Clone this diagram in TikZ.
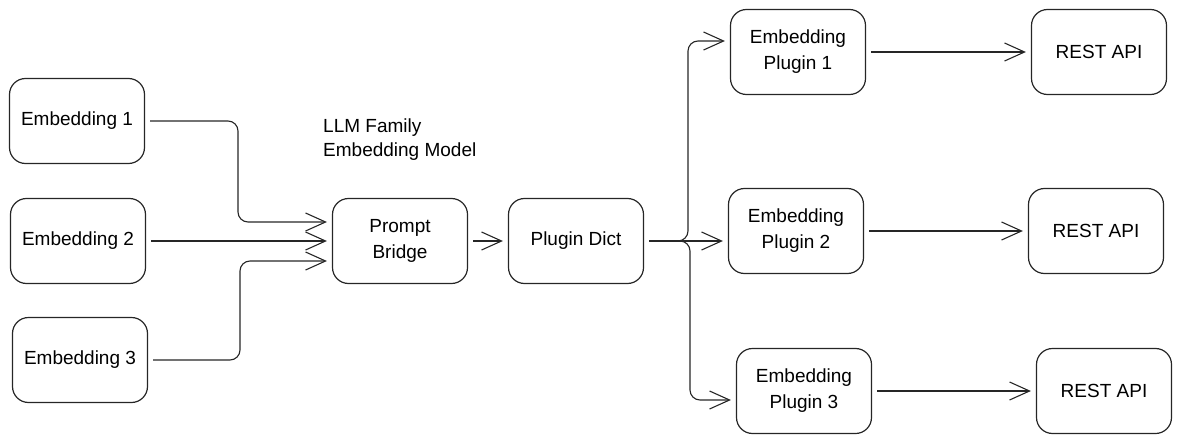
\documentclass[tikz,border=0pt]{standalone}
\usepackage{fontspec}
\setmainfont{Liberation Sans}
\usetikzlibrary{arrows.meta}
\tikzset{
  box/.style={draw=black!85, line width=1.2pt, rounded corners=16pt, minimum width=135pt, minimum height=85pt, align=center, font=\fontsize{19}{26}\selectfont, inner sep=2pt},
  conn/.style={draw=black!85, line width=1.1pt, rounded corners=10pt, -{Straight Barb[length=20pt,width=18pt,line width=1.1pt]}, shorten <=5pt, shorten >=5pt},
  lbl/.style={font=\fontsize{19}{24}\selectfont, align=left, anchor=west, inner sep=0pt}
}
\begin{document}
\begin{tikzpicture}[x=1pt,y=-1pt]
\useasboundingbox (0,0) rectangle (1181,444);
\node[box] (e1) at (77,121) {Embedding 1};
\node[box] (e2) at (78,241) {Embedding 2};
\node[box] (e3) at (80,360) {Embedding 3};
\node[box] (pb) at (400,241) {Prompt\\Bridge};
\node[lbl] (llm) at (323,140) {LLM Family\\Embedding Model};
\node[box] (pd) at (576,241) {Plugin Dict};
\node[box] (ep1) at (798,52) {Embedding\\Plugin 1};
\node[box] (ep2) at (796,231) {Embedding\\Plugin 2};
\node[box] (ep3) at (804,391) {Embedding\\Plugin 3};
\node[box] (r1) at (1099,52) {REST API};
\node[box] (r2) at (1096,231) {REST API};
\node[box] (r3) at (1104,391) {REST API};

\coordinate (b1) at (238,0);
\coordinate (b3) at (240,0);
\coordinate (b4) at (688,0);
\coordinate (b5) at (690,0);

\draw[conn] (e1.east) -- (e1.east -| b1) |- ([yshift=19pt]pb.west);
\draw[conn] (e2.east) -- (pb.west);
\draw[conn] (e3.east) -- (e3.east -| b3) |- ([yshift=-20pt]pb.west);
\draw[conn] (pb.east) -- (pd.west);
\draw[conn] (pd.east) -- (pd.east -| b4) |- ([yshift=11pt]ep1.west);
\draw[conn] (pd.east) -- (pd.east -| ep2.west);
\draw[conn] (pd.east) -- (pd.east -| b5) |- ([yshift=-9pt]ep3.west);
\draw[conn] (ep1.east) -- (r1.west);
\draw[conn] (ep2.east) -- (r2.west);
\draw[conn] (ep3.east) -- (r3.west);
\end{tikzpicture}
\end{document}
